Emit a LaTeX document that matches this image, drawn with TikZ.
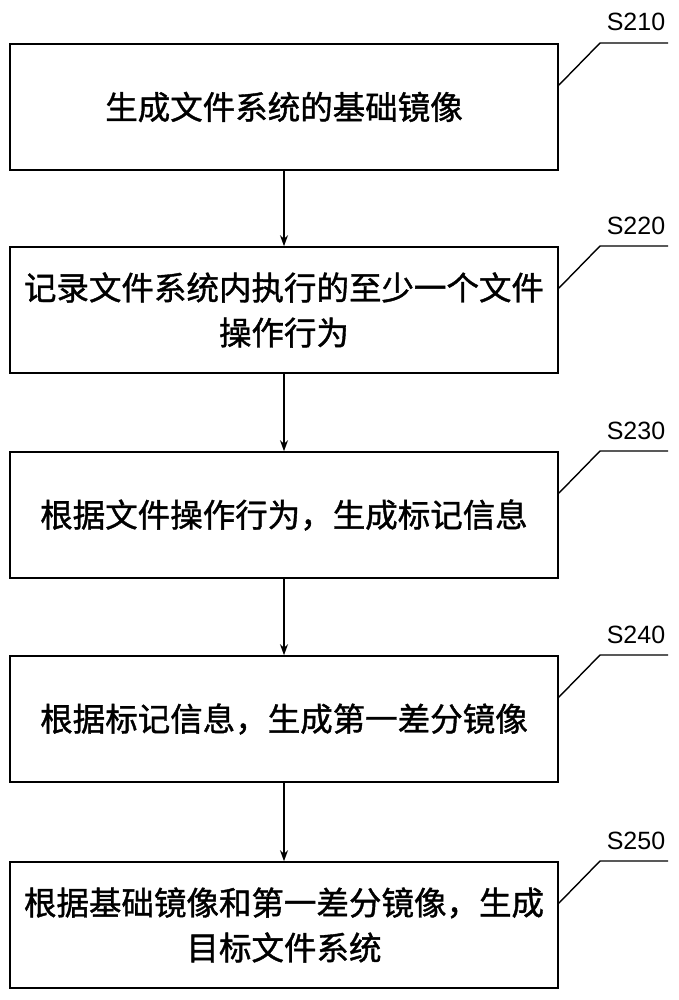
\documentclass[tikz,border=0pt]{standalone}
\usepackage{fontspec}
\setmainfont{Liberation Sans}
\newfontfamily\cjk[FakeBold=1.2]{Noto Sans CJK SC}
\usetikzlibrary{arrows.meta}
\begin{document}
\begin{tikzpicture}[x=1pt,y=-1pt,
 box/.style={draw,line width=1.6pt,minimum width=548pt,minimum height=126pt,align=center,font=\cjk\fontsize{32.5}{45}\selectfont,inner sep=0pt,text width=546pt},
 arr/.style={line width=1.4pt,-{Stealth[length=11pt,width=8pt]}},
 lead/.style={line width=1.4pt},
 lab/.style={font=\fontsize{25}{27}\selectfont,anchor=base}]
\useasboundingbox (0,0) rectangle (679,1000);
\node[box] (b1) at (284,107) {生成文件系统的基础镜像};
\node[box] (b2) at (284,310) {记录文件系统内执行的至少一个文件\\操作行为};
\node[box] (b3) at (284,515) {根据文件操作行为，生成标记信息};
\node[box] (b4) at (284,719) {根据标记信息，生成第一差分镜像};
\node[box] (b5) at (284,925) {根据基础镜像和第一差分镜像，生成\\目标文件系统};
\draw[arr] (b1.south) -- (b2.north);
\draw[arr] (b2.south) -- (b3.north);
\draw[arr] (b3.south) -- (b4.north);
\draw[arr] (b4.south) -- (b5.north);
\foreach \b/\t/\y in {b1/S210/43,b2/S220/246,b3/S230/451,b4/S240/655,b5/S250/861}{
 \coordinate (k\b) at (600,\y);
 \coordinate (e\b) at (668,\y);
 \draw[lead] ([yshift=-42pt]\b.north east) -- (k\b) -- (e\b);
 \node[lab] (l\b) at (636,\y-12) {\t};
}
\end{tikzpicture}
\end{document}
